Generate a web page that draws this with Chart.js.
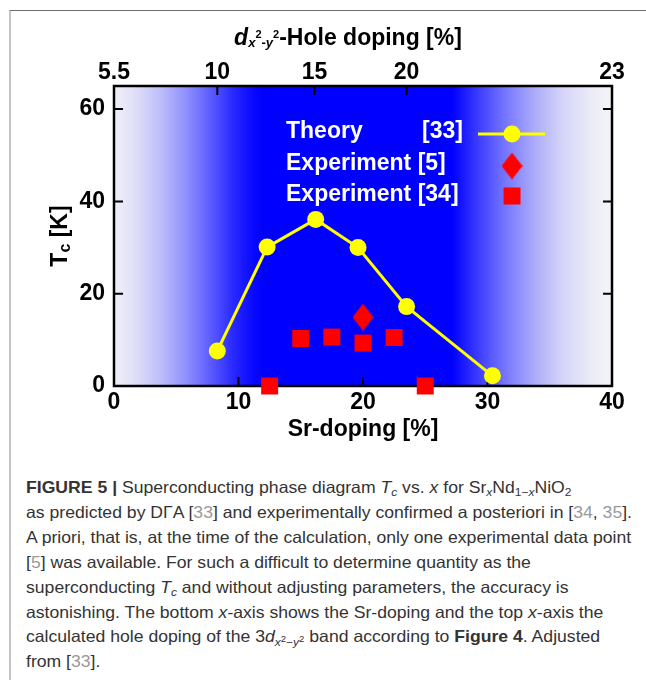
<!DOCTYPE html>
<html>
<head>
<meta charset="utf-8">
<script src="https://cdn.jsdelivr.net/npm/chart.js@4.4.1/dist/chart.umd.min.js"></script>
<style>
  html, body { margin: 0; padding: 0; background: #fff; }
  body { width: 646px; height: 680px; position: relative; overflow: hidden; }
  #frame { position: absolute; left: 9px; top: 10px; right: 0; bottom: 0; border-top: 1px solid #6e6e6e; border-left: 2px solid #c4c4c4; }
  #plot { position: absolute; left: 0; top: 0; }
  #caption { position: absolute; left: 26px; top: 475px; font-family: 'Liberation Sans', Arial, sans-serif; font-size: 16.5px; line-height: 24.9px; color: #333; transform-origin: 0 0; }
  #caption div { white-space: nowrap; }
  #caption sub { font-size: 68%; line-height: 0; vertical-align: -0.3em; }
  #caption sub sup { font-size: 80%; vertical-align: 0.5em; }
  .ref { color: #999; }
</style>
</head>
<body>
<div id="frame"></div>
<canvas id="plot" width="646" height="460"></canvas>
<div id="caption">
  <div><b>FIGURE 5 |</b> Superconducting phase diagram <i>T<sub>c</sub></i> vs. <i>x</i> for Sr<sub><i>x</i></sub>Nd<sub>1−<i>x</i></sub>NiO<sub>2</sub></div>
  <div>as predicted by DΓA [<span class="ref">33</span>] and experimentally confirmed a posteriori in [<span class="ref">34</span>, <span class="ref">35</span>].</div>
  <div id="capLong">A priori, that is, at the time of the calculation, only one experimental data point</div>
  <div>[<span class="ref">5</span>] was available. For such a difficult to determine quantity as the</div>
  <div>superconducting <i>T<sub>c</sub></i> and without adjusting parameters, the accuracy is</div>
  <div>astonishing. The bottom <i>x</i>-axis shows the Sr-doping and the top <i>x</i>-axis the</div>
  <div>calculated hole doping of the 3<i>d</i><sub><i>x</i><sup>2</sup>−<i>y</i><sup>2</sup></sub> band according to <b>Figure 4</b>. Adjusted</div>
  <div>from [<span class="ref">33</span>].</div>
</div>
<script>
// Tc vs Sr doping
const srTheory = [8.3, 12.3, 16.2, 19.6, 23.5, 30.4];
const tcTheory = [7.6, 30.1, 36.1, 30.0, 17.2, 2.2];
const srExp5 = [20.0];
const tcExp5 = [14.9];
const srExp34 = [12.5, 15.0, 17.5, 20.0, 22.5, 25.0];
const tcExp34 = [0, 10.3, 10.6, 9.3, 10.5, 0];

const srTicks = [0, 10, 20, 30, 40];
const tcTicks = [0, 20, 40, 60];
// top axis: hole doping labels sit at these Sr-doping values
const holeTickPos = [0, 8.3, 16.1, 23.5, 40];
const holeTickLabels = ['5.5', '10', '15', '20', '23'];

const FAMILY = "'Liberation Sans', Arial, sans-serif";
const font = (size, style) => (style || 'bold') + ' ' + size + 'px ' + FAMILY;

function diamondImage(w, h, color) {
    const c = document.createElement('canvas');
    c.width = w; c.height = h;
    const g = c.getContext('2d');
    g.fillStyle = color;
    g.beginPath();
    g.moveTo(w / 2, 0); g.lineTo(w, h / 2); g.lineTo(w / 2, h); g.lineTo(0, h / 2);
    g.closePath();
    g.fill();
    return c;
}
const diamond = diamondImage(21, 27, '#ff0000');

// draws a list of text runs (with their own font / baseline shift), centred at cx
function drawRuns(ctx, runs, cx, baseline) {
    let total = 0;
    runs.forEach(r => { ctx.font = r.f; r.w = ctx.measureText(r.t).width; total += r.w; });
    let x = cx - total / 2;
    ctx.textAlign = 'left';
    ctx.textBaseline = 'alphabetic';
    runs.forEach(r => { ctx.font = r.f; ctx.fillText(r.t, x, baseline + (r.dy || 0)); x += r.w; });
}

const decor = {
    id: 'decor',
    beforeDraw(chart) {
        const { ctx, chartArea: a } = chart;
        const grad = ctx.createLinearGradient(a.left, 0, a.right, 0);
        [[0, '#f0f0fa'], [0.04, '#e0e0f8'], [0.09, '#c0c0fa'], [0.14, '#9494fc'], [0.19, '#6060fe'],
         [0.24, '#2828ff'], [0.28, '#0808ff'], [0.30, '#0000ff'], [0.68, '#0000ff'], [0.72, '#3030ff'],
         [0.78, '#7070fe'], [0.84, '#a8a8fa'], [0.90, '#d4d4f8'], [0.96, '#ececf8'], [1, '#f4f4f8']]
            .forEach(s => grad.addColorStop(s[0], s[1]));
        ctx.save();
        ctx.fillStyle = grad;
        ctx.fillRect(a.left, a.top, a.right - a.left, a.bottom - a.top);
        ctx.restore();
    },
    beforeDatasetsDraw(chart) {
        const { ctx, chartArea: a, scales } = chart;
        const tl = 9;
        ctx.save();
        ctx.strokeStyle = '#000';
        ctx.lineWidth = 2;
        ctx.beginPath();
        tcTicks.filter(v => v > 0).forEach(v => {
            const y = scales.y.getPixelForValue(v);
            ctx.moveTo(a.left, y); ctx.lineTo(a.left + tl, y);
            ctx.moveTo(a.right, y); ctx.lineTo(a.right - tl, y);
        });
        srTicks.filter(v => v > 0 && v < 40).forEach(v => {
            const x = scales.x.getPixelForValue(v);
            ctx.moveTo(x, a.bottom); ctx.lineTo(x, a.bottom - tl);
        });
        holeTickPos.filter(v => v > 0 && v < 40).forEach(v => {
            const x = scales.x2.getPixelForValue(v);
            ctx.moveTo(x, a.top); ctx.lineTo(x, a.top + tl);
        });
        ctx.stroke();
        ctx.lineWidth = 2.5;
        ctx.strokeRect(a.left, a.top, a.right - a.left, a.bottom - a.top);
        ctx.restore();
    },
    afterDraw(chart) {
        const { ctx } = chart;
        ctx.save();
        ctx.fillStyle = '#000';
        // top axis title
        drawRuns(ctx, [
            { t: 'd', f: font(23, 'italic bold') },
            { t: 'x', f: font(13, 'italic bold'), dy: 2 },
            { t: '2', f: font(11), dy: -7 },
            { t: '-', f: font(13), dy: 2 },
            { t: 'y', f: font(13, 'italic bold'), dy: 2 },
            { t: '2', f: font(11), dy: -7 },
            { t: '-Hole doping [%]', f: font(23) }
        ], 348, 45);
        // left axis title
        ctx.save();
        ctx.translate(59, 236);
        ctx.rotate(-Math.PI / 2);
        drawRuns(ctx, [
            { t: 'T', f: font(23) },
            { t: 'c', f: font(16), dy: 3 },
            { t: ' [K]', f: font(23) }
        ], 0, 8);
        ctx.restore();

        // legend
        ctx.fillStyle = '#fff';
        ctx.font = font(23);
        ctx.textAlign = 'left';
        ctx.textBaseline = 'middle';
        ctx.fillText('Theory', 286, 132);
        ctx.fillText('[33]', 422, 132);
        ctx.fillText('Experiment [5]', 286, 164);
        ctx.fillText('Experiment [34]', 286, 195);

        ctx.strokeStyle = '#ffff00';
        ctx.lineWidth = 3;
        ctx.beginPath(); ctx.moveTo(478, 134); ctx.lineTo(545, 134); ctx.stroke();
        ctx.fillStyle = '#ffff00';
        ctx.beginPath(); ctx.arc(512, 134, 8.5, 0, Math.PI * 2); ctx.fill();
        ctx.drawImage(diamond, 512 - diamond.width / 2, 166 - diamond.height / 2);
        ctx.fillStyle = '#ff0000';
        ctx.fillRect(512 - 8.5, 196 - 8.5, 17, 17);
        ctx.restore();
    }
};

const toXY = (xs, ys) => xs.map((x, i) => ({ x: x, y: ys[i] }));

const tickFont = { family: FAMILY, size: 23, weight: 'bold' };

new Chart(document.getElementById('plot').getContext('2d'), {
    type: 'scatter',
    data: {
        datasets: [
            {
                label: 'Theory [33]',
                data: toXY(srTheory, tcTheory),
                showLine: true,
                borderColor: '#ffff00',
                borderWidth: 3,
                pointRadius: 8.5,
                pointBackgroundColor: '#ffff00',
                pointBorderWidth: 0,
                clip: false
            },
            {
                label: 'Experiment [5]',
                data: toXY(srExp5, tcExp5),
                pointStyle: diamond,
                pointRadius: 12,
                clip: false
            },
            {
                label: 'Experiment [34]',
                data: toXY(srExp34, tcExp34),
                pointStyle: 'rect',
                pointRadius: 12,
                pointBackgroundColor: '#ff0000',
                pointBorderWidth: 0,
                clip: false
            }
        ]
    },
    options: {
        responsive: false,
        animation: false,
        devicePixelRatio: 1,
        layout: { padding: { left: 0, right: 34, top: 0, bottom: 0 } },
        plugins: { legend: { display: false }, tooltip: { enabled: false } },
        scales: {
            x: {
                type: 'linear',
                position: 'bottom',
                min: 0,
                max: 40,
                afterBuildTicks: s => { s.ticks = srTicks.map(v => ({ value: v })); },
                afterFit: s => { s.height = 74; },
                grid: { display: false, drawTicks: false },
                border: { display: false },
                ticks: { padding: 3, color: '#000', font: tickFont, maxRotation: 0, autoSkip: false },
                title: {
                    display: true,
                    text: 'Sr-doping [%]',
                    color: '#000',
                    font: { family: FAMILY, size: 23, weight: 'bold' },
                    padding: { top: 0, bottom: 17 }
                }
            },
            x2: {
                type: 'linear',
                position: 'top',
                min: 0,
                max: 40,
                afterBuildTicks: s => { s.ticks = holeTickPos.map(v => ({ value: v })); },
                afterFit: s => { s.height = 86; },
                grid: { display: false, drawTicks: false },
                border: { display: false },
                ticks: {
                    padding: 0, color: '#000', font: tickFont, maxRotation: 0, autoSkip: false,
                    callback: (v, i) => holeTickLabels[i]
                }
            },
            y: {
                type: 'linear',
                min: 0,
                max: 65,
                afterBuildTicks: s => { s.ticks = tcTicks.map(v => ({ value: v })); },
                afterFit: s => { s.width = 114; },
                grid: { display: false, drawTicks: false },
                border: { display: false },
                ticks: { padding: 9, color: '#000', font: tickFont, autoSkip: false }
            }
        }
    },
    plugins: [decor]
});

// squeeze the caption to the reference line width
const cap = document.getElementById('caption');
const longLine = document.getElementById('capLong');
cap.style.transform = 'scaleX(' + (606 / longLine.getBoundingClientRect().width) + ')';
</script>
</body>
</html>
